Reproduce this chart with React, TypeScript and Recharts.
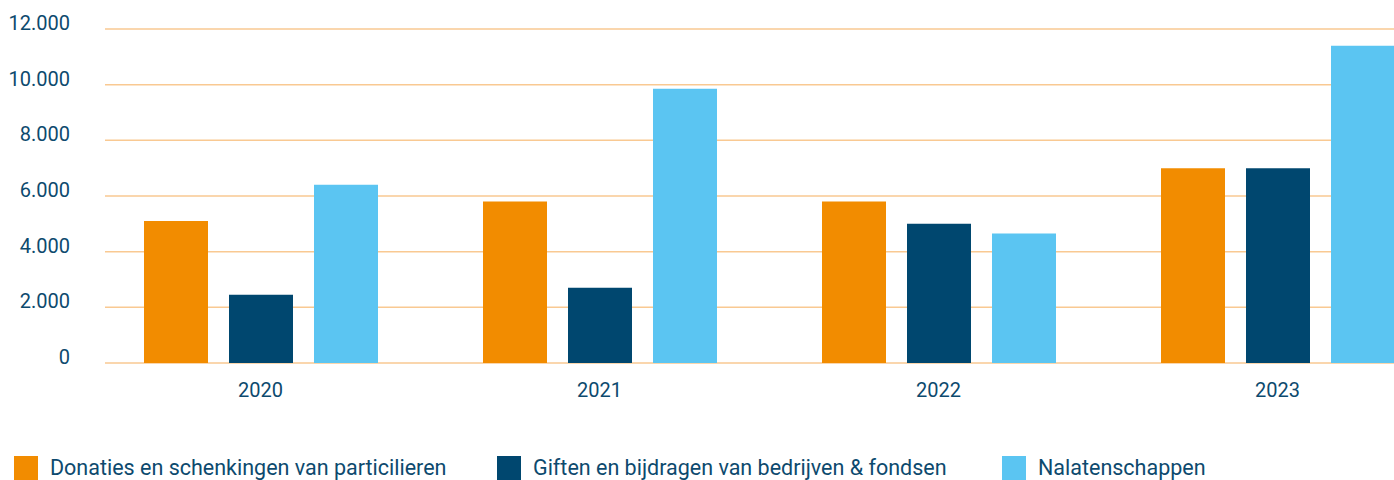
import { Bar, BarChart, CartesianGrid, XAxis, YAxis } from "recharts";

const years = ["2020", "2021", "2022", "2023"];
const particulieren = [5100, 5800, 5800, 7000];
const bedrijven = [2450, 2700, 5000, 7000];
const nalatenschappen = [6400, 9850, 4650, 11400];
const yTicks = [0, 2000, 4000, 6000, 8000, 10000, 12000];

const seriesNames = [
  "Donaties en schenkingen van particilieren",
  "Giften en bijdragen van bedrijven & fondsen",
  "Nalatenschappen",
];
const colors = ["#F28C00", "#00476F", "#5BC5F2"];

const TEXT = "#0D4A6E";
const FONT = "Roboto, sans-serif";

const data = years.map((year, i) => ({
  year,
  particulieren: particulieren[i],
  bedrijven: bedrijven[i],
  nalatenschappen: nalatenschappen[i],
}));

const formatThousands = (v: number) =>
  String(v).replace(/\B(?=(\d{3})+(?!\d))/g, ".");

function YTick({ y, payload }: { y?: number; payload?: { value: number } }) {
  return (
    <text
      x={70}
      y={(y ?? 0) - 6}
      textAnchor="end"
      dominantBaseline="central"
      fill={TEXT}
      fontSize={20}
      fontFamily={FONT}
    >
      {formatThousands(payload?.value ?? 0)}
    </text>
  );
}

function XTick({ x, payload }: { x?: number; payload?: { value: string } }) {
  return (
    <text
      x={x}
      y={390}
      textAnchor="middle"
      dominantBaseline="central"
      fill={TEXT}
      fontSize={20}
      fontFamily={FONT}
    >
      {payload?.value}
    </text>
  );
}

export default function App() {
  return (
    <div
      style={{
        position: "fixed",
        left: 0,
        top: 0,
        width: 1394,
        height: 480,
        overflow: "hidden",
        background: "#fff",
        fontFamily: FONT,
      }}
    >
      <BarChart
        width={1459}
        height={403}
        data={data}
        margin={{ top: 29, right: 12, bottom: 0, left: -1 }}
        barSize={64}
        barGap={21}
      >
        <CartesianGrid
          vertical={false}
          x={105}
          width={1400}
          stroke="#F9C992"
          strokeWidth={1.5}
        />
        <XAxis
          dataKey="year"
          axisLine={false}
          tickLine={false}
          height={40}
          tick={<XTick />}
        />
        <YAxis
          domain={[0, 12000]}
          ticks={yTicks}
          width={92}
          axisLine={false}
          tickLine={false}
          tick={<YTick />}
        />
        <Bar dataKey="particulieren" fill={colors[0]} isAnimationActive={false} />
        <Bar dataKey="bedrijven" fill={colors[1]} isAnimationActive={false} />
        <Bar dataKey="nalatenschappen" fill={colors[2]} isAnimationActive={false} />
      </BarChart>
      {seriesNames.map((name, i) => (
        <div
          key={name}
          style={{
            position: "absolute",
            top: 456,
            left: [14, 497, 1002][i],
            display: "flex",
            alignItems: "center",
            whiteSpace: "nowrap",
          }}
        >
          <span
            style={{
              display: "inline-block",
              width: 24,
              height: 24,
              background: colors[i],
              marginRight: 12,
            }}
          />
          <span style={{ color: TEXT, fontSize: 21.5, lineHeight: "24px" }}>
            {name}
          </span>
        </div>
      ))}
    </div>
  );
}
